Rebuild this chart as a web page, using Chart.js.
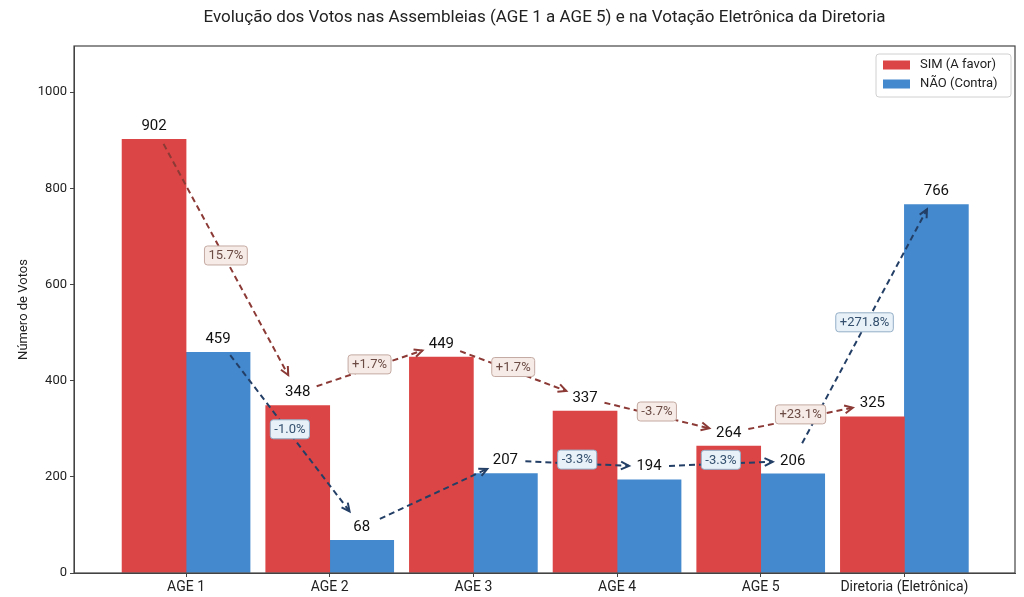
<!DOCTYPE html>
<html lang="pt">
<head>
<meta charset="UTF-8">
<title>Evolução dos Votos</title>
<script src="https://cdn.jsdelivr.net/npm/chart.js"></script>
<style>
  body { margin: 0; background: #fff; }
  canvas { display: block; }
</style>
</head>
<body>
<canvas id="votosChart" width="1024" height="597"></canvas>
<script>
// data
const categories = ['AGE 1', 'AGE 2', 'AGE 3', 'AGE 4', 'AGE 5', 'Diretoria (Eletrônica)'];
const simVotes = [902, 348, 449, 337, 264, 325];
const naoVotes = [459, 68, 207, 194, 206, 766];
// labels on the arrows between consecutive groups
const simChanges = ['15.7%', '+1.7%', '+1.7%', '-3.7%', '+23.1%'];
const naoChanges = ['-1.0%', '', '-3.3%', '-3.3%', '+271.8%'];

const FONT = 'Roboto, "Noto Sans", sans-serif';
const RED = '#dc4545';
const BLUE = '#4489cd';

function drawArrow(ctx, x1, y1, x2, y2, color) {
    const dx = x2 - x1, dy = y2 - y1;
    const len = Math.hypot(dx, dy);
    const ux = dx / len, uy = dy / len;
    const shrink = 20;
    const sx = x1 + ux * shrink, sy = y1 + uy * shrink;
    const ex = x2 - ux * shrink, ey = y2 - uy * shrink;
    ctx.save();
    ctx.strokeStyle = color;
    ctx.lineWidth = 2;
    ctx.setLineDash([6, 4]);
    ctx.beginPath();
    ctx.moveTo(sx, sy);
    ctx.lineTo(ex, ey);
    ctx.stroke();
    // open arrow head
    ctx.setLineDash([]);
    const a = Math.atan2(uy, ux);
    const h = 9, spread = 0.45;
    ctx.beginPath();
    ctx.moveTo(ex - h * Math.cos(a - spread), ey - h * Math.sin(a - spread));
    ctx.lineTo(ex, ey);
    ctx.lineTo(ex - h * Math.cos(a + spread), ey - h * Math.sin(a + spread));
    ctx.stroke();
    ctx.restore();
}

function drawTag(ctx, x, y, text, fill, border, color) {
    if (!text) return;
    ctx.save();
    ctx.font = '13px ' + FONT;
    const w = ctx.measureText(text).width + 8;
    const h = 19;
    ctx.fillStyle = fill;
    ctx.strokeStyle = border;
    ctx.lineWidth = 1;
    ctx.beginPath();
    ctx.roundRect(x - w / 2, y - h / 2, w, h, 3);
    ctx.fill();
    ctx.stroke();
    ctx.fillStyle = color;
    ctx.textAlign = 'center';
    ctx.textBaseline = 'middle';
    ctx.fillText(text, x, y + 0.5);
    ctx.restore();
}

const overlay = {
    id: 'overlay',
    afterDatasetsDraw(chart) {
        const ctx = chart.ctx;
        const area = chart.chartArea;
        // frame (matplotlib spines)
        ctx.save();
        ctx.strokeStyle = '#444';
        ctx.lineWidth = 1.2;
        ctx.strokeRect(area.left, area.top, area.right - area.left, area.bottom - area.top);
        ctx.restore();

        const series = [
            { meta: chart.getDatasetMeta(0), values: simVotes, changes: simChanges,
              line: '#8c3a36', fill: '#f6ebe6', border: '#c4aaa2', text: '#6b4a44' },
            { meta: chart.getDatasetMeta(1), values: naoVotes, changes: naoChanges,
              line: '#243f66', fill: '#e8f1f8', border: '#93aec6', text: '#34506e' }
        ];

        // anchor points just above each bar (where the value label sits)
        const anchors = series.map(s => s.meta.data.map(bar => ({ x: bar.x, y: bar.y - 13 })));

        series.forEach((s, k) => {
            const pts = anchors[k];
            for (let i = 0; i < pts.length - 1; i++) {
                drawArrow(ctx, pts[i].x, pts[i].y, pts[i + 1].x, pts[i + 1].y, s.line);
            }
        });

        // value labels
        ctx.save();
        ctx.font = '15px ' + FONT;
        ctx.fillStyle = '#111';
        ctx.textAlign = 'center';
        ctx.textBaseline = 'middle';
        series.forEach((s, k) => {
            anchors[k].forEach((p, i) => ctx.fillText(String(s.values[i]), p.x, p.y));
        });
        ctx.restore();

        // change tags at the middle of each arrow
        series.forEach((s, k) => {
            const pts = anchors[k];
            for (let i = 0; i < pts.length - 1; i++) {
                const mx = (pts[i].x + pts[i + 1].x) / 2;
                const my = (pts[i].y + pts[i + 1].y) / 2;
                drawTag(ctx, mx, my - 4, s.changes[i], s.fill, s.border, s.text);
            }
        });
    },
    afterDraw(chart) {
        const ctx = chart.ctx;
        const area = chart.chartArea;
        // title
        ctx.save();
        ctx.font = '17px ' + FONT;
        ctx.fillStyle = '#222';
        ctx.textAlign = 'center';
        ctx.textBaseline = 'middle';
        ctx.fillText('Evolução dos Votos nas Assembleias (AGE 1 a AGE 5) e na Votação Eletrônica da Diretoria',
            (area.left + area.right) / 2, 18);
        ctx.restore();

        // legend, upper right inside the plot
        const items = chart.data.datasets;
        const bx = area.right - 139, by = area.top + 8, bw = 135, bh = 43;
        ctx.save();
        ctx.fillStyle = 'rgba(255,255,255,0.85)';
        ctx.strokeStyle = '#d0d0d0';
        ctx.lineWidth = 1;
        ctx.beginPath();
        ctx.roundRect(bx, by, bw, bh, 3);
        ctx.fill();
        ctx.stroke();
        ctx.font = '13px ' + FONT;
        ctx.textBaseline = 'middle';
        items.forEach((d, i) => {
            const cy = by + 11 + i * 19;
            ctx.fillStyle = d.backgroundColor;
            ctx.fillRect(bx + 7, cy - 4.5, 27, 9);
            ctx.fillStyle = '#222';
            ctx.fillText(d.label, bx + 44, cy);
        });
        ctx.restore();
    }
};

const ctx = document.getElementById('votosChart').getContext('2d');

new Chart(ctx, {
    type: 'bar',
    data: {
        datasets: [
            { label: 'SIM (A favor)', data: simVotes.map((v, i) => ({ x: i, y: v })),
              backgroundColor: RED, barThickness: 64 },
            { label: 'NÃO (Contra)', data: naoVotes.map((v, i) => ({ x: i, y: v })),
              backgroundColor: BLUE, barThickness: 64 }
        ]
    },
    options: {
        responsive: false,
        animation: false,
        layout: { padding: { top: 46, right: 9, left: 0, bottom: 0 } },
        plugins: {
            legend: { display: false },
            tooltip: { enabled: false }
        },
        scales: {
            x: {
                type: 'linear',
                offset: false,
                min: -0.78,
                max: 5.77,
                afterBuildTicks: scale => { scale.ticks = categories.map((c, i) => ({ value: i })); },
                afterFit: scale => { scale.height = 24; },
                grid: { offset: false, drawOnChartArea: false, drawTicks: true, tickLength: 4, color: '#444' },
                border: { color: '#444' },
                ticks: {
                    callback: v => categories[v],
                    font: { family: FONT, size: 14 },
                    color: '#222',
                    padding: 2,
                    maxRotation: 0,
                    autoSkip: false
                }
            },
            y: {
                min: 0,
                max: 1096,
                afterFit: scale => { scale.width = 74; },
                grid: { drawOnChartArea: false, drawTicks: true, tickLength: 4, color: '#444' },
                border: { color: '#444' },
                ticks: {
                    stepSize: 200,
                    includeBounds: false,
                    callback: v => String(v),
                    font: { family: FONT, size: 13 },
                    color: '#222',
                    padding: 3
                },
                title: {
                    display: true,
                    text: 'Número de Votos',
                    font: { family: FONT, size: 13 },
                    color: '#222',
                    padding: { top: 16, bottom: 0 }
                }
            }
        }
    },
    plugins: [overlay]
});
</script>
</body>
</html>
